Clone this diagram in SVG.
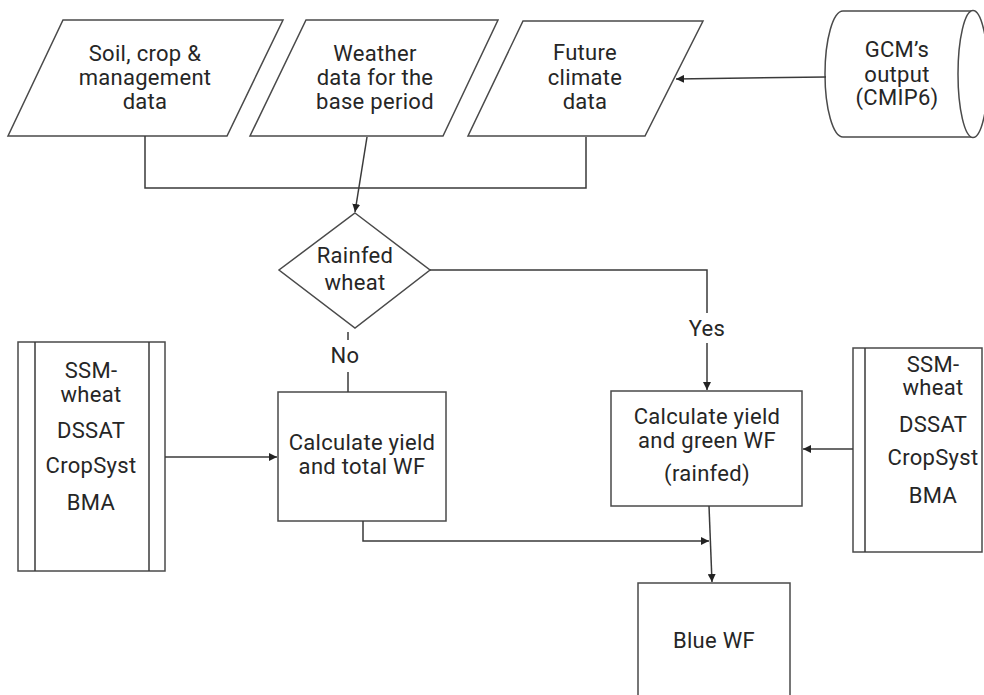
<svg xmlns="http://www.w3.org/2000/svg" width="984" height="695" viewBox="0 0 984 695">
<defs>
<style>
.s{fill:#fff;stroke:#4a4a4a;stroke-width:1.5}
.l{fill:none;stroke:#3a3a3a;stroke-width:1.5}
text{font-family:Roboto,"Liberation Sans",sans-serif;font-size:22px;letter-spacing:0.3px;fill:#262626;text-anchor:middle}
</style>
<marker id="a" viewBox="0 0 10 10" refX="10" refY="5" markerWidth="8" markerHeight="8" markerUnits="userSpaceOnUse" orient="auto">
<path d="M0,0 L10,5 L0,10 Z" fill="#222"/>
</marker>
</defs>
<rect width="984" height="695" fill="#fff"/>
<g id="soil">
<polygon class="s" points="63,20 283,20 227,136 8,136"/>
<text x="145" y="61">Soil, crop &amp;</text>
<text x="145" y="85">management</text>
<text x="145" y="109">data</text>
</g>
<g id="weather">
<polygon class="s" points="306,20 498,20 443,136 250,136"/>
<text x="375" y="61">Weather</text>
<text x="375" y="85">data for the</text>
<text x="375" y="109">base period</text>
</g>
<g id="future">
<polygon class="s" points="523,21 703,21 645,136 468,136"/>
<text x="585" y="60">Future</text>
<text x="585" y="85">climate</text>
<text x="585" y="109">data</text>
</g>
<g id="gcm">
<path class="s" d="M843,11 H973 V137 H843 A18,63 0 0,1 843,11 Z"/>
<ellipse class="s" cx="973" cy="74" rx="15" ry="63.5"/>
<text x="897" y="57">GCM’s</text>
<text x="897" y="82">output</text>
<text x="897" y="105">(CMIP6)</text>
</g>
<g id="rainfed">
<polygon class="s" points="355,213 430,270 355,328 279,270"/>
<text x="355" y="263">Rainfed</text>
<text x="355" y="290">wheat</text>
</g>
<g id="models-left">
<rect class="s" x="18" y="342" width="147" height="229"/>
<line class="l" x1="35" y1="342" x2="35" y2="571"/>
<line class="l" x1="149" y1="342" x2="149" y2="571"/>
<text x="91" y="378">SSM-</text>
<text x="91" y="402">wheat</text>
<text x="91" y="438">DSSAT</text>
<text x="91" y="473">CropSyst</text>
<text x="91" y="510">BMA</text>
</g>
<g id="calc-total">
<rect class="s" x="278" y="392" width="168" height="129"/>
<text x="362" y="450">Calculate yield</text>
<text x="362" y="474">and total WF</text>
</g>
<g id="calc-green">
<rect class="s" x="611" y="391" width="191" height="115"/>
<text x="707" y="424">Calculate yield</text>
<text x="707" y="448">and green WF</text>
<text x="707" y="481">(rainfed)</text>
</g>
<g id="models-right">
<rect class="s" x="853" y="348" width="129" height="204"/>
<line class="l" x1="865" y1="348" x2="865" y2="552"/>
<text x="933" y="372">SSM-</text>
<text x="933" y="395">wheat</text>
<text x="933" y="432">DSSAT</text>
<text x="933" y="465">CropSyst</text>
<text x="933" y="503">BMA</text>
</g>
<g id="blue">
<rect class="s" x="638" y="583" width="152" height="130"/>
<text x="714" y="648">Blue WF</text>
</g>
<g id="connectors">
<path class="l" d="M145,136 V188 H586 V137"/>
<path class="l" d="M367,137 L355,212" marker-end="url(#a)"/>
<path class="l" d="M826,77 L676,79" marker-end="url(#a)"/>
<path class="l" d="M430,270 H707 V313"/>
<path class="l" d="M707,343 V390" marker-end="url(#a)"/>
<text x="707" y="336">Yes</text>
<path class="l" d="M348,332 V340"/>
<path class="l" d="M348,372 V392"/>
<text x="345" y="363">No</text>
<path class="l" d="M165,457 H277" marker-end="url(#a)"/>
<path class="l" d="M853,449 H803" marker-end="url(#a)"/>
<path class="l" d="M363,521 V541 H709" marker-end="url(#a)"/>
<path class="l" d="M709,506 L712,582" marker-end="url(#a)"/>
</g>
</svg>
